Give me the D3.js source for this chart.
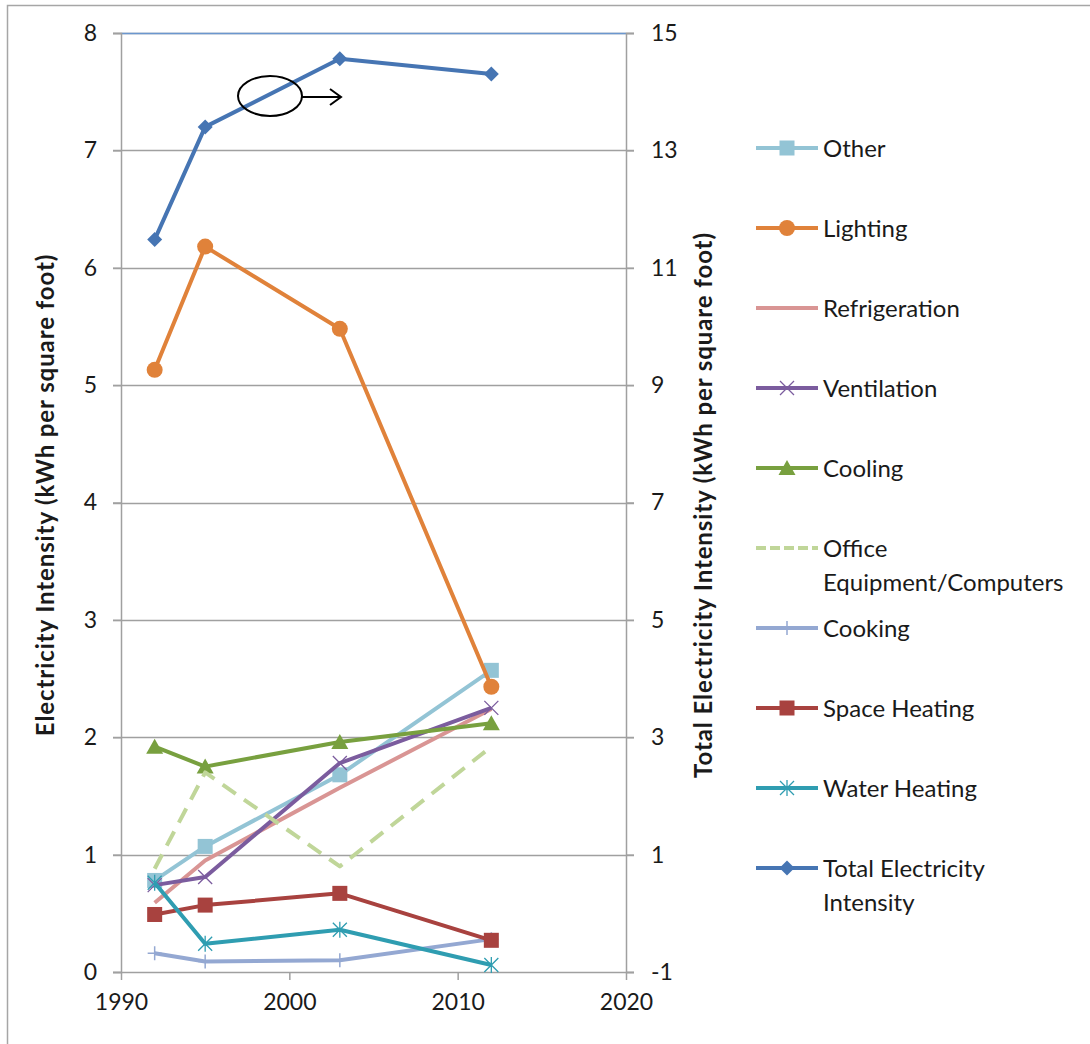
<!DOCTYPE html>
<html>
<head>
<meta charset="utf-8">
<script src="https://cdn.jsdelivr.net/npm/d3@7"></script>
<style>
  html, body { margin: 0; padding: 0; background: #fff; }
  svg { display: block; }
  text { font-family: Lato, "Open Sans", "Liberation Sans", sans-serif; fill: #1a1a1a; }
</style>
</head>
<body>
<svg id="chart" width="1090" height="1044"></svg>
<script>
// Survey years
const years = [1992, 1995, 2003, 2012];

// Electricity intensity by end use (kWh per square foot)
const other        = [0.78, 1.07, 1.68, 2.57];
const lighting     = [5.13, 6.18, 5.48, 2.43];
const refrigeration= [0.59, 0.95, 1.57, 2.24];
const ventilation  = [0.74, 0.81, 1.78, 2.25];
const cooling      = [1.92, 1.75, 1.96, 2.12];
const office       = [0.88, 1.70, 0.90, 1.92];
const cooking      = [0.16, 0.09, 0.10, 0.28];
const spaceHeating = [0.49, 0.57, 0.67, 0.27];
const waterHeating = [0.76, 0.24, 0.36, 0.06];
// Total electricity intensity, plotted on the secondary axis
const total        = [11.48, 13.40, 14.56, 14.30];

// Axis ticks
const xTicks = [1990, 2000, 2010, 2020];
const leftTicks = [0, 1, 2, 3, 4, 5, 6, 7, 8];
const rightTicks = [-1, 1, 3, 5, 7, 9, 11, 13, 15];

const series = [
  { name: "Other", values: other, color: "#93c4d5", marker: "square", axis: "left" },
  { name: "Lighting", values: lighting, color: "#e0823a", marker: "circle", axis: "left" },
  { name: "Refrigeration", values: refrigeration, color: "#d99594", marker: "none", axis: "left" },
  { name: "Ventilation", values: ventilation, color: "#7b5c9e", marker: "x", axis: "left" },
  { name: "Cooling", values: cooling, color: "#78a03f", marker: "triangle", axis: "left" },
  { name: ["Office", "Equipment/Computers"], values: office, color: "#c0d699", marker: "none", dashed: true, axis: "left" },
  { name: "Cooking", values: cooking, color: "#94a8d2", marker: "plus", axis: "left" },
  { name: "Space Heating", values: spaceHeating, color: "#a8423f", marker: "square", axis: "left" },
  { name: "Water Heating", values: waterHeating, color: "#2f9db1", marker: "star", axis: "left" },
  { name: ["Total Electricity", "Intensity"], values: total, color: "#4675b3", marker: "diamond", axis: "right" }
];

const svg = d3.select("#chart");

// Outer chart frame
svg.append("rect")
  .attr("x", 7.5).attr("y", 5.5).attr("width", 1100).attr("height", 1100)
  .attr("fill", "none").attr("stroke", "#a6a6a6").attr("stroke-width", 1.5);

const plot = { left: 121, right: 626, top: 33, bottom: 972 };

const x = d3.scaleLinear().domain([1990, 2020]).range([plot.left, plot.right]);
const yL = d3.scaleLinear().domain([0, 8]).range([plot.bottom, plot.top]);
const yR = d3.scaleLinear().domain([-1, 15]).range([plot.bottom, plot.top]);

const gridColor = "#a0a0a0";
const tickFont = 23;
const fmt = d => String(d);

// Horizontal gridlines (extend across the outer tick marks)
svg.append("g").selectAll("line")
  .data(leftTicks.filter(d => d > 0))
  .join("line")
  .attr("x1", plot.left - 8).attr("x2", plot.right + 8)
  .attr("y1", d => Math.round(yL(d)) + 0.5).attr("y2", d => Math.round(yL(d)) + 0.5)
  .attr("stroke", gridColor)
  .attr("stroke-width", 1.5);

// Top border of the plot area drawn in blue
svg.append("line")
  .attr("x1", plot.left).attr("x2", plot.right)
  .attr("y1", Math.round(yL(8)) + 0.5).attr("y2", Math.round(yL(8)) + 0.5)
  .attr("stroke", "#6b97cf").attr("stroke-width", 1.5);

function styleAxis(g) {
  g.select(".domain").attr("stroke", gridColor).attr("stroke-width", 1.5);
  g.selectAll(".tick line").attr("stroke", gridColor).attr("stroke-width", 1.5);
  g.selectAll(".tick text").attr("font-size", tickFont)
    .attr("font-family", "Lato, sans-serif").attr("fill", "#1a1a1a");
}

// Left axis
const gl = svg.append("g").attr("transform", `translate(${plot.left},0)`)
  .call(d3.axisLeft(yL).tickValues(leftTicks).tickSize(8).tickPadding(16).tickFormat(fmt));
styleAxis(gl);

// Right axis
const gr = svg.append("g").attr("transform", `translate(${plot.right},0)`)
  .call(d3.axisRight(yR).tickValues(rightTicks).tickSize(8).tickPadding(17).tickFormat(fmt));
styleAxis(gr);

// Bottom axis
const gb = svg.append("g").attr("transform", `translate(0,${plot.bottom})`)
  .call(d3.axisBottom(x).tickValues(xTicks).tickSize(8).tickPadding(14).tickFormat(fmt));
styleAxis(gb);
gb.select(".domain").attr("d", `M${plot.left - 8},0.5H${plot.right + 8}`);

// Axis titles
svg.append("text")
  .attr("transform", `translate(54,495) rotate(-90)`)
  .attr("text-anchor", "middle").attr("font-size", 24).attr("font-weight", "bold")
  .attr("letter-spacing", 0.9)
  .text("Electricity Intensity (kWh per square foot)");
svg.append("text")
  .attr("transform", `translate(712,505) rotate(-90)`)
  .attr("text-anchor", "middle").attr("font-size", 24).attr("font-weight", "bold")
  .attr("letter-spacing", 0.9)
  .text("Total Electricity Intensity (kWh per square foot)");

// Marker drawing
function drawMarker(g, type, color, cx, cy) {
  switch (type) {
    case "square":
      g.append("rect").attr("x", cx - 7.5).attr("y", cy - 7.5).attr("width", 15).attr("height", 15).attr("fill", color);
      break;
    case "circle":
      g.append("circle").attr("cx", cx).attr("cy", cy).attr("r", 8).attr("fill", color);
      break;
    case "triangle":
      g.append("path").attr("d", `M${cx},${cy - 8}L${cx + 8.5},${cy + 7}L${cx - 8.5},${cy + 7}Z`).attr("fill", color);
      break;
    case "diamond":
      g.append("path").attr("d", `M${cx},${cy - 7.5}L${cx + 7.5},${cy}L${cx},${cy + 7.5}L${cx - 7.5},${cy}Z`).attr("fill", color);
      break;
    case "x":
      g.append("path").attr("d", `M${cx - 7},${cy - 7}L${cx + 7},${cy + 7}M${cx - 7},${cy + 7}L${cx + 7},${cy - 7}`)
        .attr("stroke", color).attr("stroke-width", 1.3).attr("fill", "none");
      break;
    case "plus":
      g.append("path").attr("d", `M${cx},${cy - 7}L${cx},${cy + 7}M${cx - 7},${cy}L${cx + 7},${cy}`)
        .attr("stroke", color).attr("stroke-width", 1.5).attr("fill", "none");
      break;
    case "star":
      g.append("path").attr("d", `M${cx - 7},${cy - 7}L${cx + 7},${cy + 7}M${cx - 7},${cy + 7}L${cx + 7},${cy - 7}M${cx},${cy - 8}L${cx},${cy + 8}`)
        .attr("stroke", color).attr("stroke-width", 1.3).attr("fill", "none");
      break;
  }
}

// Series lines and markers
const linesG = svg.append("g");
series.forEach(s => {
  const yS = s.axis === "right" ? yR : yL;
  const line = d3.line().x((d, i) => x(years[i])).y(d => yS(d));
  linesG.append("path")
    .datum(s.values)
    .attr("d", line)
    .attr("fill", "none")
    .attr("stroke", s.color)
    .attr("stroke-width", 4)
    .attr("stroke-linejoin", "round")
    .attr("stroke-dasharray", s.dashed ? "16,10" : null);
  const mg = linesG.append("g");
  s.values.forEach((v, i) => drawMarker(mg, s.marker, s.color, x(years[i]), yS(v)));
});

// Callout marking the total series as belonging to the right axis
const callout = svg.append("g").attr("stroke", "#000").attr("fill", "none").attr("stroke-width", 2);
callout.append("ellipse").attr("cx", 270).attr("cy", 96).attr("rx", 32).attr("ry", 20);
callout.append("line").attr("x1", 302).attr("y1", 97).attr("x2", 341).attr("y2", 97);
callout.append("path").attr("d", "M330,89L341,97L330,105");

// Legend
const legend = svg.append("g");
series.forEach((s, i) => {
  const cy = 148 + i * 80;
  const g = legend.append("g");
  g.append("line")
    .attr("x1", 756).attr("x2", 818).attr("y1", cy).attr("y2", cy)
    .attr("stroke", s.color).attr("stroke-width", 4)
    .attr("stroke-dasharray", s.dashed ? "10,4" : null);
  drawMarker(g, s.marker, s.color, 787, cy);
  const names = Array.isArray(s.name) ? s.name : [s.name];
  names.forEach((n, k) => {
    g.append("text")
      .attr("x", 823).attr("y", cy + 8.5 + k * 34)
      .attr("font-size", 24)
      .text(n);
  });
});
</script>
</body>
</html>
